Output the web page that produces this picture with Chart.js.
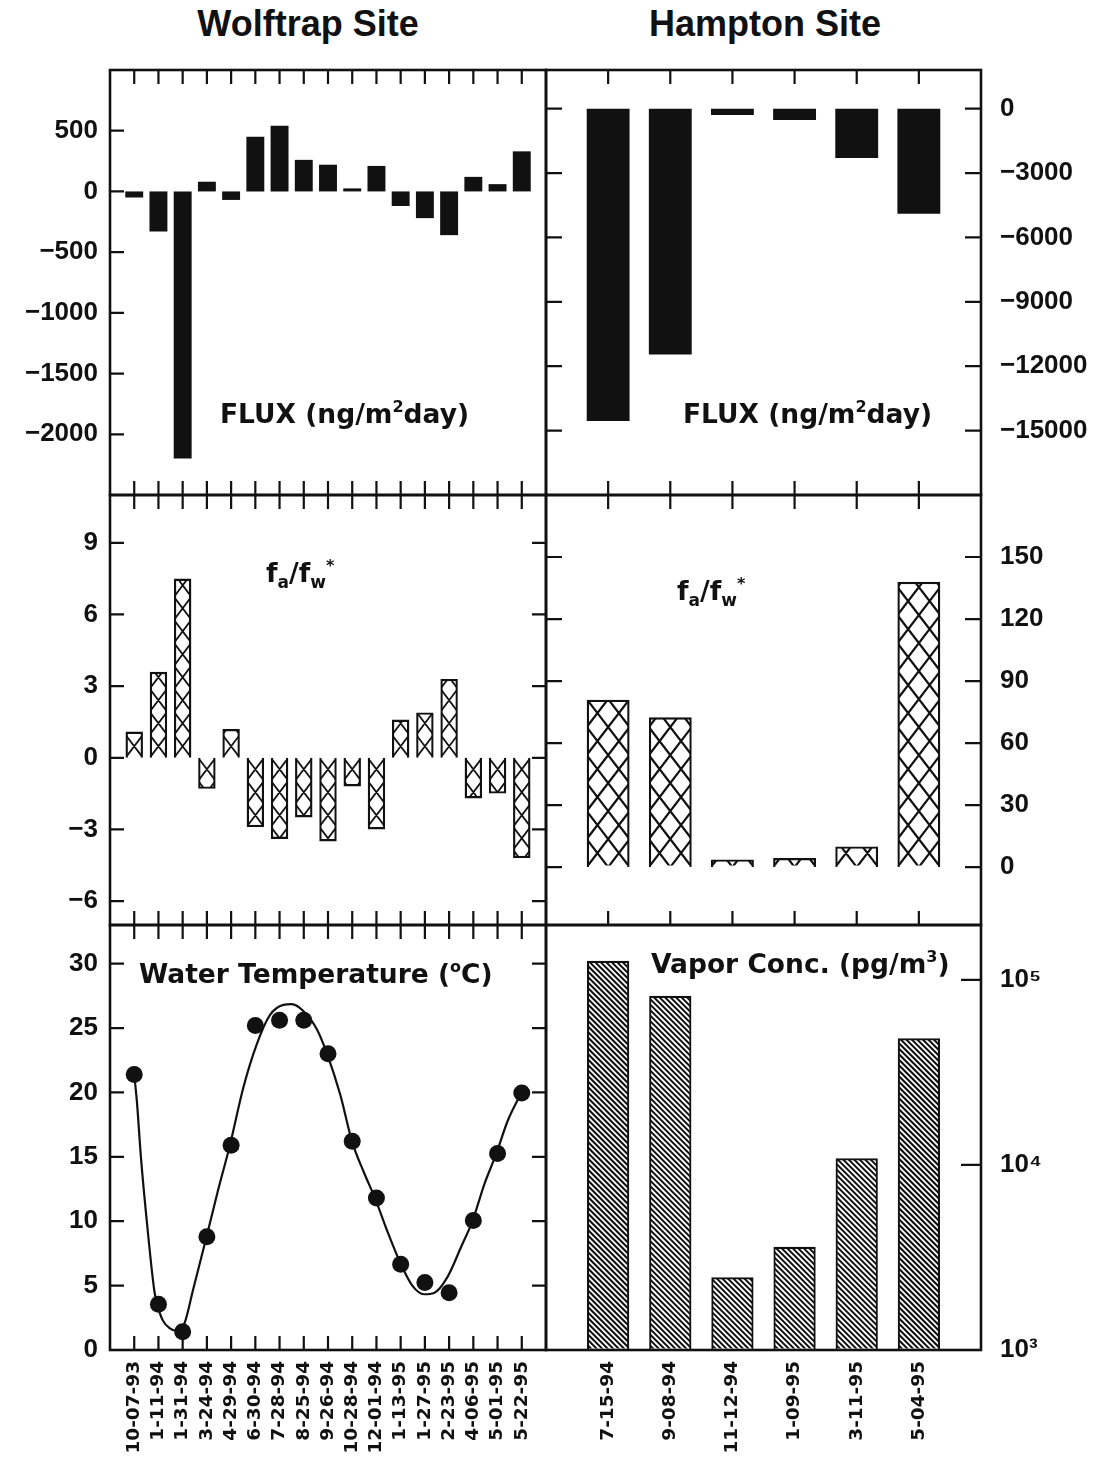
<!DOCTYPE html>
<html>
<head>
<meta charset="utf-8">
<script src="https://cdn.jsdelivr.net/npm/chart.js@4.4.1/dist/chart.umd.min.js"></script>
<style>
  html, body { margin: 0; padding: 0; background: #fff; }
  #page { position: relative; width: 1106px; height: 1459px; overflow: hidden; color: #111; }
  canvas { position: absolute; }
  .title { position: absolute; font-family: 'Liberation Sans', Arial, sans-serif; font-weight: bold;
           font-size: 36px; line-height: 36px; white-space: nowrap; transform: translateX(-50%); }
  .lab { position: absolute; font-family: 'DejaVu Sans', sans-serif; font-weight: bold;
         font-size: 26.5px; line-height: 27px; white-space: nowrap; }
  .lab sup { font-size: 16px; line-height: 0; vertical-align: 11px; }
  .lab sub { font-size: 17px; line-height: 0; vertical-align: -6px; }
</style>
</head>
<body>
<div id="page">
  <div class="title" style="left:308px;top:6px;">Wolftrap Site</div>
  <div class="title" style="left:765px;top:6px;">Hampton Site</div>

  <canvas id="fluxW" width="551" height="435" style="left:0;top:65px;"></canvas>
  <canvas id="fluxH" width="565" height="435" style="left:541px;top:65px;"></canvas>
  <canvas id="ratioW" width="551" height="440" style="left:0;top:490px;"></canvas>
  <canvas id="ratioH" width="565" height="440" style="left:541px;top:490px;"></canvas>
  <canvas id="tempW" width="551" height="539" style="left:0;top:920px;"></canvas>
  <canvas id="vaporH" width="565" height="539" style="left:541px;top:920px;"></canvas>

  <div class="lab" style="left:220px;top:400px;">FLUX (ng/m<sup>2</sup>day)</div>
  <div class="lab" style="left:683px;top:400px;">FLUX (ng/m<sup>2</sup>day)</div>
  <div class="lab" style="left:266px;top:559px;">f<sub>a</sub>/f<sub>w</sub><sup>*</sup></div>
  <div class="lab" style="left:677px;top:577px;">f<sub>a</sub>/f<sub>w</sub><sup>*</sup></div>
  <div class="lab" style="left:139px;top:960px;">Water Temperature (<sup>o</sup>C)</div>
  <div class="lab" style="left:651px;top:950px;">Vapor Conc. (pg/m<sup>3</sup>)</div>
</div>

<script>
// ---- sampling dates ----
const wolfDates = ['10-07-93', '1-11-94', '1-31-94', '3-24-94', '4-29-94', '6-30-94', '7-28-94',
  '8-25-94', '9-26-94', '10-28-94', '12-01-94', '1-13-95', '1-27-95', '2-23-95', '4-06-95',
  '5-01-95', '5-22-95'];
const hamptonDates = ['7-15-94', '9-08-94', '11-12-94', '1-09-95', '3-11-95', '5-04-95'];

// ---- air-water exchange flux (ng/m2 day) ----
const wolfFlux = [-50, -330, -2200, 80, -70, 450, 540, 260, 220, 25, 210, -120, -220, -360, 120, 60, 330];
const hamptonFlux = [-14550, -11450, -300, -530, -2300, -4900];

// ---- fugacity ratio fa/fw ----
const wolfRatio = [1.1, 3.6, 7.5, -1.3, 1.2, -2.9, -3.4, -2.5, -3.5, -1.2, -3.0, 1.6, 1.9, 3.3, -1.7, -1.5, -4.2];
const hamptonRatio = [81, 72.5, 3.7, 4.4, 10, 138];

// ---- water temperature (deg C) and its fitted seasonal curve ----
const wolfTemp = [21.4, 3.55, 1.42, 8.8, 15.9, 25.2, 25.6, 25.6, 23.0, 16.2, 11.8, 6.65, 5.25, 4.45, 10.05, 15.25, 19.96];
const tempFitX = [1.0, 1.11, 1.28, 1.53, 1.83, 1.94, 2.18, 2.46, 2.73, 3.08, 3.42, 3.98, 4.46, 4.95,
  5.5, 6.05, 6.6, 7.16, 7.5, 7.99, 8.54, 8.95, 9.51, 9.99, 10.48, 10.96, 11.44, 12.0, 12.48,
  12.97, 13.38, 13.93, 14.49, 14.97, 15.46, 15.94, 16.42, 16.98];
const tempFitY = [21.4, 19.3, 14.9, 9.8, 4.6, 3.6, 2.3, 1.7, 1.5, 2.1, 4.6, 8.75, 12.4, 15.9,
  20.35, 23.7, 26.0, 26.8, 26.85, 26.3, 24.9, 23.05, 19.8, 16.2, 13.8, 11.7, 9.27, 6.7, 5.0,
  4.33, 4.43, 5.66, 7.98, 10.05, 12.9, 15.2, 17.8, 19.96];

// ---- vapour concentration (pg/m3) ----
const hamptonVapor = [126800, 82000, 2470, 3610, 10860, 48400];

// ---- axis ticks ----
const wolfFluxTicks = [-2000, -1500, -1000, -500, 0, 500];
const hamptonFluxTicks = [-15000, -12000, -9000, -6000, -3000, 0];
const wolfRatioTicks = [-6, -3, 0, 3, 6, 9];
const hamptonRatioTicks = [0, 30, 60, 90, 120, 150];
const tempTicks = [0, 5, 10, 15, 20, 25, 30];
const vaporTicks = [1000, 10000, 100000];
const vaporTickLabels = ['10\u00B3', '10\u2074', '10\u2075'];

const wolfX = wolfDates.map((d, i) => i + 1);
const hamptonX = hamptonDates.map((d, i) => i + 1);

const INK = '#111';
const SANS = "'Liberation Sans', Arial, sans-serif";
const minus = v => (v < 0 ? '\u2212' + Math.abs(v) : String(v));

// Box outline plus short inward tick marks on the chosen sides.
const framePlugin = {
  id: 'frame',
  afterDraw(chart, args, o) {
    if (!o || !o.on) return;
    const { ctx, chartArea: a } = chart;
    const xs = chart.scales.x, ys = chart.scales.y;
    ctx.save();
    ctx.strokeStyle = INK;
    ctx.lineWidth = 2.2;
    ctx.beginPath();
    (o.xTicks || []).forEach(v => {
      const px = xs.getPixelForValue(v);
      if (o.top) { ctx.moveTo(px, a.top); ctx.lineTo(px, a.top + o.xLen); }
      if (o.bottom) { ctx.moveTo(px, a.bottom); ctx.lineTo(px, a.bottom - o.xLen); }
    });
    (o.yTicks || []).forEach(v => {
      const py = ys.getPixelForValue(v);
      if (o.left) { ctx.moveTo(a.left, py); ctx.lineTo(a.left + o.yLen, py); }
      if (o.right) { ctx.moveTo(a.right, py); ctx.lineTo(a.right - o.yLen, py); }
    });
    ctx.stroke();
    ctx.lineWidth = 2.6;
    ctx.strokeRect(a.left, a.top, a.right - a.left, a.bottom - a.top);
    ctx.restore();
  }
};

// Line shading inside bars: cross-hatch or back-slash diagonals.
const hatchPlugin = {
  id: 'hatch',
  afterDatasetsDraw(chart, args, o) {
    if (!o || !o.kind) return;
    const ctx = chart.ctx;
    chart.getDatasetMeta(0).data.forEach(el => {
      const p = el.getProps(['x', 'y', 'base', 'width'], true);
      const l = p.x - p.width / 2, r = p.x + p.width / 2;
      const t = Math.min(p.y, p.base), b = Math.max(p.y, p.base);
      const ins = o.inset;
      ctx.save();
      ctx.beginPath();
      ctx.rect(l + ins, t + ins, r - l - 2 * ins, b - t - 2 * ins);
      ctx.clip();
      ctx.strokeStyle = INK;
      ctx.lineWidth = o.lw;
      ctx.beginPath();
      if (o.kind === 'cross') {
        const w = (r - l) * o.wFrac;
        const h = o.h;
        const n = Math.ceil((b - t) / h) + Math.ceil((r - l) / w) + 3;
        for (let k = -n; k <= n; k++) {
          // lattice anchored at the bar's left edge on its base line
          const x0 = l + k * w;
          ctx.moveTo(x0 + (t - p.base) * w / h, t);
          ctx.lineTo(x0 + (b - p.base) * w / h, b);
          ctx.moveTo(x0 - (t - p.base) * w / h, t);
          ctx.lineTo(x0 - (b - p.base) * w / h, b);
        }
      } else {
        const s = o.step;
        for (let d = -(b - t); d <= (r - l) + s; d += s) {
          ctx.moveTo(l + d, t);
          ctx.lineTo(l + d + (b - t), b);
        }
      }
      ctx.stroke();
      ctx.restore();
    });
  }
};

Chart.register(framePlugin, hatchPlugin);

function hiddenX(max) {
  return { type: 'linear', min: 0, max: max, offset: false, display: false };
}

function dateX(max, labels) {
  return {
    type: 'linear', min: 0, max: max, offset: false,
    grid: { display: false, drawTicks: false },
    border: { display: false },
    afterBuildTicks: s => { s.ticks = labels.map((d, i) => ({ value: i + 1 })); },
    afterFit: s => { s.height = 109; s.paddingLeft = 0; s.paddingRight = 0; },
    ticks: {
      autoSkip: false, minRotation: 90, maxRotation: 90, padding: 11, color: INK,
      font: { family: "'DejaVu Sans', sans-serif", size: 18.5, weight: 'bold' },
      callback: v => labels[v - 1] || ''
    }
  };
}

function valueY(o) {
  return {
    type: o.type || 'linear',
    position: o.side,
    min: o.min, max: o.max,
    grid: { display: false, drawTicks: false },
    border: { display: false },
    afterBuildTicks: s => { s.ticks = o.ticks.map(v => ({ value: v })); },
    afterFit: s => { s.width = o.width; s.paddingTop = 0; s.paddingBottom = 0; },
    ticks: {
      padding: o.pad, color: INK,
      font: { family: SANS, size: 26, weight: 'bold' },
      callback: o.fmt || minus
    }
  };
}

function options(c) {
  return {
    responsive: false, animation: false, events: [], devicePixelRatio: 1,
    layout: { padding: c.padding, autoPadding: false },
    plugins: {
      legend: { display: false }, tooltip: { enabled: false },
      frame: Object.assign({ on: true, xLen: 14, yLen: 14 }, c.frame),
      hatch: c.hatch || {}
    },
    scales: { x: c.x, y: c.y }
  };
}

const padLeftCol = { left: 0, right: 5, top: 5, bottom: 5 };
const padRightCol = { left: 5, right: 0, top: 5, bottom: 5 };
const padLeftBottom = { left: 0, right: 5, top: 5, bottom: 0 };
const padRightBottom = { left: 5, right: 0, top: 5, bottom: 0 };

const pairs = (xs, ys) => ys.map((v, i) => ({ x: xs[i], y: v }));

// Wolftrap flux
new Chart(document.getElementById('fluxW'), {
  type: 'bar',
  data: { datasets: [{ data: pairs(wolfX, wolfFlux), backgroundColor: INK, borderWidth: 0,
    barPercentage: 0.74, categoryPercentage: 1 }] },
  options: options({
    padding: padLeftCol,
    x: hiddenX(18),
    y: valueY({ side: 'left', min: -2500, max: 1000, ticks: wolfFluxTicks, width: 110, pad: 12 }),
    frame: { xTicks: wolfX, top: true, bottom: true, yTicks: wolfFluxTicks, left: true, right: false }
  })
});

// Hampton flux
new Chart(document.getElementById('fluxH'), {
  type: 'bar',
  data: { datasets: [{ data: pairs(hamptonX, hamptonFlux), backgroundColor: INK, borderWidth: 0,
    barPercentage: 0.69, categoryPercentage: 1 }] },
  options: options({
    padding: padRightCol,
    x: hiddenX(7),
    y: valueY({ side: 'right', min: -18000, max: 1800, ticks: hamptonFluxTicks, width: 125, pad: 19 }),
    frame: { xTicks: hamptonX, top: true, bottom: true, yTicks: hamptonFluxTicks, left: true, right: true, yLen: 16 }
  })
});

// Wolftrap fugacity ratio
new Chart(document.getElementById('ratioW'), {
  type: 'bar',
  data: { datasets: [{ data: pairs(wolfX, wolfRatio), backgroundColor: '#fff', borderColor: INK,
    borderWidth: 2.4, barPercentage: 0.72, categoryPercentage: 1 }] },
  options: options({
    padding: padLeftCol,
    x: hiddenX(18),
    y: valueY({ side: 'left', min: -7, max: 11, ticks: wolfRatioTicks, width: 110, pad: 12 }),
    frame: { xTicks: wolfX, top: true, bottom: true, yTicks: wolfRatioTicks, left: true, right: true },
    hatch: { kind: 'cross', wFrac: 1, h: 23, lw: 1.8, inset: 1.5 }
  })
});

// Hampton fugacity ratio
new Chart(document.getElementById('ratioH'), {
  type: 'bar',
  data: { datasets: [{ data: pairs(hamptonX, hamptonRatio), backgroundColor: '#fff', borderColor: INK,
    borderWidth: 2.4, barPercentage: 0.69, categoryPercentage: 1 }] },
  options: options({
    padding: padRightCol,
    x: hiddenX(7),
    y: valueY({ side: 'right', min: -28, max: 180, ticks: hamptonRatioTicks, width: 125, pad: 19 }),
    frame: { xTicks: hamptonX, top: true, bottom: true, yTicks: hamptonRatioTicks, left: true, right: true, yLen: 16 },
    hatch: { kind: 'cross', wFrac: 0.5, h: 28, lw: 2.2, inset: 1.5 }
  })
});

// Wolftrap water temperature with fitted curve
new Chart(document.getElementById('tempW'), {
  type: 'scatter',
  data: { datasets: [
    { data: pairs(wolfX, wolfTemp), showLine: false, pointRadius: 8.5, pointBackgroundColor: INK,
      pointBorderColor: INK, pointBorderWidth: 0 },
    { data: pairs(tempFitX, tempFitY), showLine: true, pointRadius: 0, borderColor: INK,
      borderWidth: 2.2, cubicInterpolationMode: 'monotone', fill: false }
  ] },
  options: options({
    padding: padLeftBottom,
    x: dateX(18, wolfDates),
    y: valueY({ side: 'left', min: 0, max: 33, ticks: tempTicks, width: 110, pad: 12 }),
    frame: { xTicks: wolfX, top: true, bottom: true, yTicks: tempTicks, left: true, right: true }
  })
});

// Hampton vapour concentration (log scale)
new Chart(document.getElementById('vaporH'), {
  type: 'bar',
  data: { datasets: [{ data: pairs(hamptonX, hamptonVapor), backgroundColor: '#fff', borderColor: INK,
    borderWidth: 2.2, barPercentage: 0.68, categoryPercentage: 1 }] },
  options: options({
    padding: padRightBottom,
    x: dateX(7, hamptonDates),
    y: valueY({ type: 'logarithmic', side: 'right', min: 1000, max: 198000, ticks: vaporTicks,
      width: 125, pad: 19, fmt: v => vaporTickLabels[vaporTicks.indexOf(v)] || '' }),
    frame: { xTicks: [], yTicks: [10000, 100000], left: false, right: true, yLen: 20 },
    hatch: { kind: 'diag', step: 5.5, lw: 2, inset: 1.5 }
  })
});
</script>
</body>
</html>
